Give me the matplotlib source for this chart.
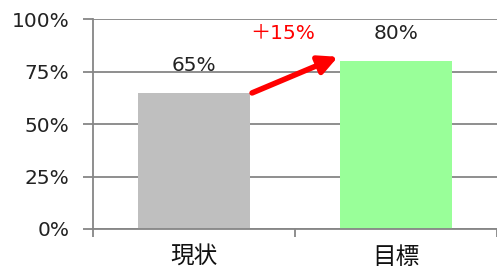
import numpy as np
import matplotlib
matplotlib.use("Agg")
from matplotlib import pyplot as plt
from matplotlib.ticker import PercentFormatter

plt.rcParams['font.family'] = ['DejaVu Sans', 'Noto Sans CJK JP']

categories = ['現状', '目標']
values = [0.65, 0.80]
bar_colors = ['#bfbfbf', '#99ff99']
value_labels = ['65%', '80%']
diff_label = '＋15%'
yticks = [0, 0.25, 0.5, 0.75, 1.0]

fig = plt.figure(figsize=(4.97, 2.74), dpi=100)
ax = fig.add_axes([93 / 497, 45 / 274, 404 / 497, 210 / 274])

x = np.arange(len(categories))
w = 0.555
ax.bar(x, values, width=w, color=bar_colors, zorder=2)

ax.set_xlim(-0.5, 1.5)
ax.set_ylim(0, 1.0)
ax.set_yticks(yticks)
ax.yaxis.set_major_formatter(PercentFormatter(1.0, decimals=0))
ax.grid(axis='y', color='#868686', linewidth=1.3, zorder=1)
ax.set_axisbelow(True)

for s in ['top', 'right']:
    ax.spines[s].set_visible(False)
for s in ['left', 'bottom']:
    ax.spines[s].set_color('#868686')
    ax.spines[s].set_linewidth(1.3)

ax.tick_params(axis='y', length=7, width=1.3, color='#868686', pad=10,
               labelsize=14.5, labelcolor='#222222')
ax.set_xticks(x)
ax.set_xticklabels(categories, fontfamily='Noto Sans CJK JP', fontsize=17)
ax.set_xticks([-0.5, 0.5, 1.5], minor=True)
ax.tick_params(axis='x', which='major', length=0, pad=12, labelcolor='#111111')
ax.tick_params(axis='x', which='minor', length=6, width=1.3, color='#868686')

for xi, v, lab in zip(x, values, value_labels):
    ax.text(xi, v + 0.13, lab, ha='center', va='center', fontsize=14.5,
            color='#222222')

# red arrow from current to target
ax.annotate('', xy=(1 - w / 2 - 0.01, values[1] + 0.02),
            xytext=(w / 2 + 0.01, values[0] - 0.002),
            arrowprops=dict(arrowstyle='-|>', color='#ff0000', lw=4,
                            mutation_scale=28, shrinkA=0, shrinkB=0))
ax.text(0.44, values[1] + 0.13, diff_label, ha='center', va='center',
        fontsize=14.5, color='#ff0000')

fig.savefig('out.png', dpi=100)
